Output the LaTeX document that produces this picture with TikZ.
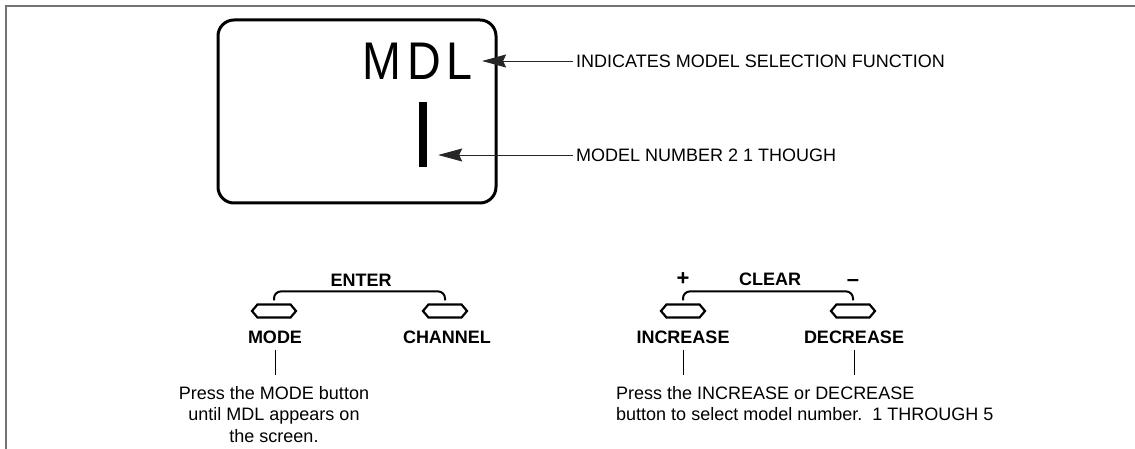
\documentclass[tikz,border=0pt]{standalone}
\usepackage{fontspec}
\setmainfont{Liberation Sans}
\usetikzlibrary{arrows.meta,shapes.symbols,calc}
\begin{document}
\begin{tikzpicture}[x=1pt,y=-1pt,
  every node/.style={font=\fontsize{18}{21.5}\selectfont},
  lbl/.style={font=\fontsize{18}{21.5}\selectfont\bfseries, inner sep=3pt},
  sign/.style={font=\fontsize{22}{22}\selectfont\bfseries, inner sep=2pt},
  btn/.style={draw, line width=2.2pt, signal, signal to=east and west, signal pointer angle=100, minimum width=44pt, minimum height=13pt, inner sep=0pt},
  brk/.style={line width=2pt, rounded corners=7pt},
  callout/.style={draw=black!85, line width=0.9pt, -{Stealth[length=24pt,width=13pt,inset=3pt]}},
  tick/.style={line width=0.8pt},
  frame/.style={draw=black!55, line width=1.5pt}
]
\useasboundingbox (0,0) rectangle (1135,449);
\draw[frame] (6,449) -- (6,6) -- (1135,6);
\node[draw, line width=3pt, rounded corners=16pt, minimum width=278pt, minimum height=183pt] (display) at (357,111.5) {};
\node[inner sep=0pt, inner xsep=9pt] (mdl) at (417.5,61) {\fontsize{53}{53}\selectfont\scalebox{0.88}[1]{M\kern7pt D\kern7pt L}};
\node[fill=black, inner sep=0pt, minimum width=8pt, minimum height=65pt] (bar) at (423,134.5) {};
\node[anchor=west, inner sep=3pt] (lab1) at (573,61) {INDICATES MODEL SELECTION FUNCTION};
\node[anchor=west, inner sep=3pt] (lab2) at (573,155) {MODEL NUMBER 2 1 THOUGH};
\draw[callout] (lab1.west) -- (mdl.east);
\draw[callout] (lab2.west) -- ($(bar.east |- lab2.west)+(11,0)$);

\node[btn] (mb) at (274,311) {};
\node[btn] (cb) at (445,311) {};
\node[btn] (ib) at (683,311) {};
\node[btn] (db) at (853,311) {};
\node[lbl] (model) at (275,337) {MODE};
\node[lbl] (chl) at (447,337) {CHANNEL};
\node[lbl] (incl) at (683,337) {INCREASE};
\node[lbl] (decl) at (854,337) {DECREASE};
\node[lbl] (enter) at (361,280) {ENTER};
\node[lbl] (clear) at (770,279) {CLEAR};
\node[sign] (plus) at (683,279) {+};
\node[sign] (minus) at (853,283) {--};
\draw[brk] ([yshift=3pt]mb.north) |- ([yshift=12pt]cb.north) -- ([yshift=3pt]cb.north);
\draw[brk] ([yshift=3pt]ib.north) |- ([yshift=12pt]db.north) -- ([yshift=3pt]db.north);

\node[anchor=north, align=center, inner xsep=0pt, inner ysep=11pt] (t1) at (274,375) {Press the MODE button\\until MDL appears on\\the screen.};
\node[anchor=north west, align=left, inner xsep=0pt, inner ysep=11pt] (t2) at (616,375) {Press the INCREASE or DECREASE\\button to select model number.\ \ 1 THROUGH 5};
\draw[tick] ([yshift=-3pt]model.south) -- (model.south |- t1.north);
\draw[tick] ([yshift=-3pt]incl.south) -- (incl.south |- t2.north);
\draw[tick] ([yshift=-3pt]decl.south) -- (decl.south |- t2.north);
\end{tikzpicture}
\end{document}
